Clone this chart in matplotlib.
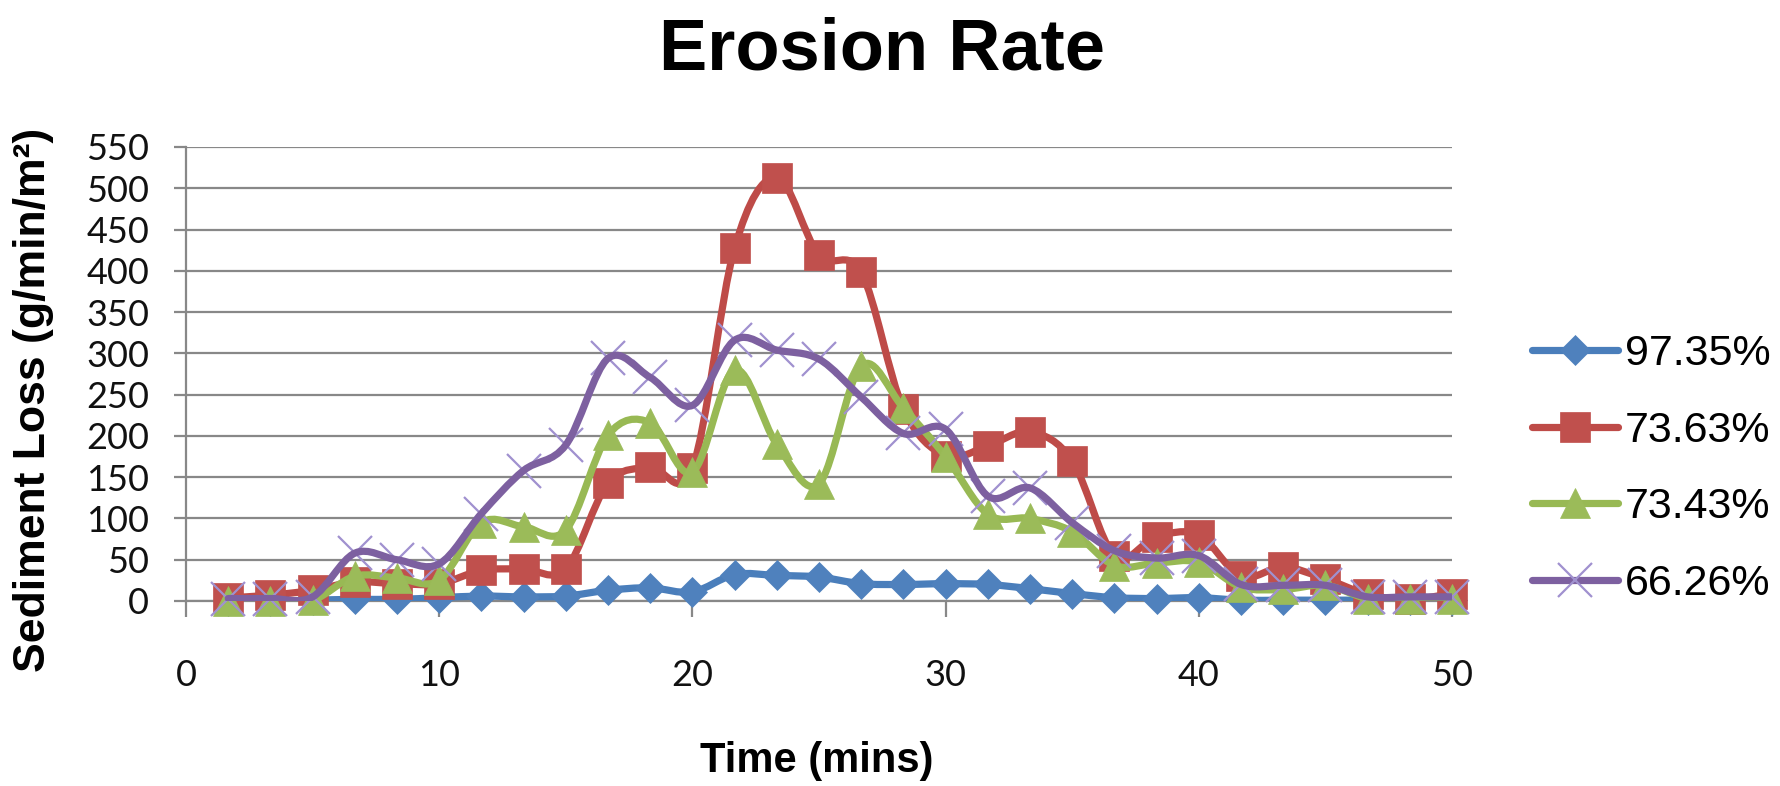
import matplotlib
matplotlib.use("Agg")
import matplotlib.pyplot as plt
from matplotlib.path import Path
from matplotlib.patches import PathPatch
from matplotlib.lines import Line2D

# time in minutes (one reading every 100 s)
time = [1.67, 3.33, 5.0, 6.67, 8.33, 10.0, 11.67, 13.33, 15.0, 16.67,
        18.33, 20.0, 21.67, 23.33, 25.0, 26.67, 28.33, 30.0, 31.67, 33.33,
        35.0, 36.67, 38.33, 40.0, 41.67, 43.33, 45.0, 46.67, 48.33, 50.0]

# sediment loss (g/min/m2) for each cover percentage
loss_9735 = [0, 0, 1, 2, 2, 4, 6, 5, 6, 13, 16, 11, 32, 31, 29, 21, 20, 21, 20, 15,
             9, 4, 3, 4, 1, 1, 1, 1, 1, 1]
loss_7363 = [4, 7, 13, 23, 21, 21, 37, 39, 39, 143, 162, 161, 428, 513, 419, 398, 233, 176, 188, 205,
             170, 55, 78, 80, 30, 41, 27, 8, 2, 9]
loss_7343 = [0, 0, 1, 30, 28, 25, 95, 90, 86, 201, 216, 156, 280, 190, 142, 285, 234, 175, 105, 100,
             84, 43, 46, 47, 17, 14, 19, 3, 2, 2]
loss_6626 = [3, 3, 5, 58, 50, 45, 106, 158, 189, 294, 271, 237, 316, 304, 293, 247, 203, 208, 127, 137,
             95, 61, 52, 55, 20, 19, 19, 5, 5, 5]

labels = ['97.35%', '73.63%', '73.43%', '66.26%']
series = [loss_9735, loss_7363, loss_7343, loss_6626]
line_cols = ['#4A7EBB', '#BE4B48', '#98B954', '#7D60A0']
mark_cols = ['#4F81BD', '#C0504D', '#9BBB59', '#A091CF']
markers = ['D', 's', '^', 'x']
msizes = [15, 21, 21, 24]
LW = 5.2


def smooth_path(x, y):
    # excel style smoothed line: catmull-rom as cubic bezier
    n = len(x)
    verts = [(x[0], y[0])]
    codes = [Path.MOVETO]
    for i in range(n - 1):
        xp, yp = (x[i - 1], y[i - 1]) if i > 0 else (x[i], y[i])
        xn, yn = (x[i + 2], y[i + 2]) if i + 2 < n else (x[i + 1], y[i + 1])
        c1 = (x[i] + (x[i + 1] - xp) / 6, y[i] + (y[i + 1] - yp) / 6)
        c2 = (x[i + 1] - (xn - x[i]) / 6, y[i + 1] - (yn - y[i]) / 6)
        verts += [c1, c2, (x[i + 1], y[i + 1])]
        codes += [Path.CURVE4] * 3
    return Path(verts, codes)


W, H = 1781, 786
fig = plt.figure(figsize=(W / 100, H / 100), dpi=100)
ax = fig.add_axes([186 / W, 1 - 601 / H, (1452 - 186) / W, (601 - 147) / H])

grid_col = '#888888'
handles = []
for i, vals in enumerate(series):
    patch = PathPatch(smooth_path(time, vals), fill=False, edgecolor=line_cols[i],
                      lw=LW, capstyle='round', joinstyle='round', zorder=3 + 2 * i)
    ax.add_patch(patch)
    mew = 1.6 if markers[i] == 'x' else 0.5
    z = 3 + 2 * i + (0.5 if markers[i] != 'x' else -0.5)
    ax.plot(time, vals, linestyle='none', marker=markers[i], ms=msizes[i],
            color=mark_cols[i], mec=mark_cols[i], mew=mew, zorder=z, clip_on=False)
    handles.append(Line2D([], [], color=line_cols[i], lw=LW, marker=markers[i], ms=msizes[i],
                          mfc=mark_cols[i], mec=mark_cols[i], mew=mew, solid_capstyle='round'))

ax.set_xlim(0, 50)
ax.set_ylim(0, 550)
ax.set_xticks([0, 10, 20, 30, 40, 50])
ax.set_yticks(range(0, 551, 50))
ax.yaxis.grid(True, color=grid_col, lw=1.6, zorder=0)
ax.set_axisbelow(True)
for s in ['top', 'right']:
    ax.spines[s].set_visible(False)
for s in ['left', 'bottom']:
    ax.spines[s].set_color(grid_col)
    ax.spines[s].set_linewidth(1.6)
ax.tick_params(axis='y', direction='out', length=8.6, width=1.6, color=grid_col, pad=18)
ax.tick_params(axis='x', direction='out', length=11.5, width=1.6, color=grid_col, pad=30)
for lab in ax.get_xticklabels() + ax.get_yticklabels():
    lab.set_family('Lato')
    lab.set_fontsize(26)
    lab.set_color('#111111')

fig.text(0.495, 1 - 51 / H, 'Erosion Rate', ha='center', va='center',
         fontsize=52, fontweight='bold', family='Liberation Sans')
fig.text(817 / W, 1 - 761 / H, 'Time (mins)', ha='center', va='center',
         fontsize=30, fontweight='bold', family='Liberation Sans')
fig.text(34 / W, 1 - 400 / H, 'Sediment Loss (g/min/m²)', ha='center', va='center',
         rotation=90, fontsize=32, fontweight='bold', family='Liberation Sans')

fig.legend(handles, labels, loc='center left', bbox_to_anchor=(1532 / W, 1 - 469 / H),
           frameon=False, borderpad=0, borderaxespad=0, handlelength=2.0,
           handletextpad=0.15, labelspacing=0.85,
           prop={'family': 'Liberation Sans', 'size': 31})

fig.savefig('out.png', dpi=100)
